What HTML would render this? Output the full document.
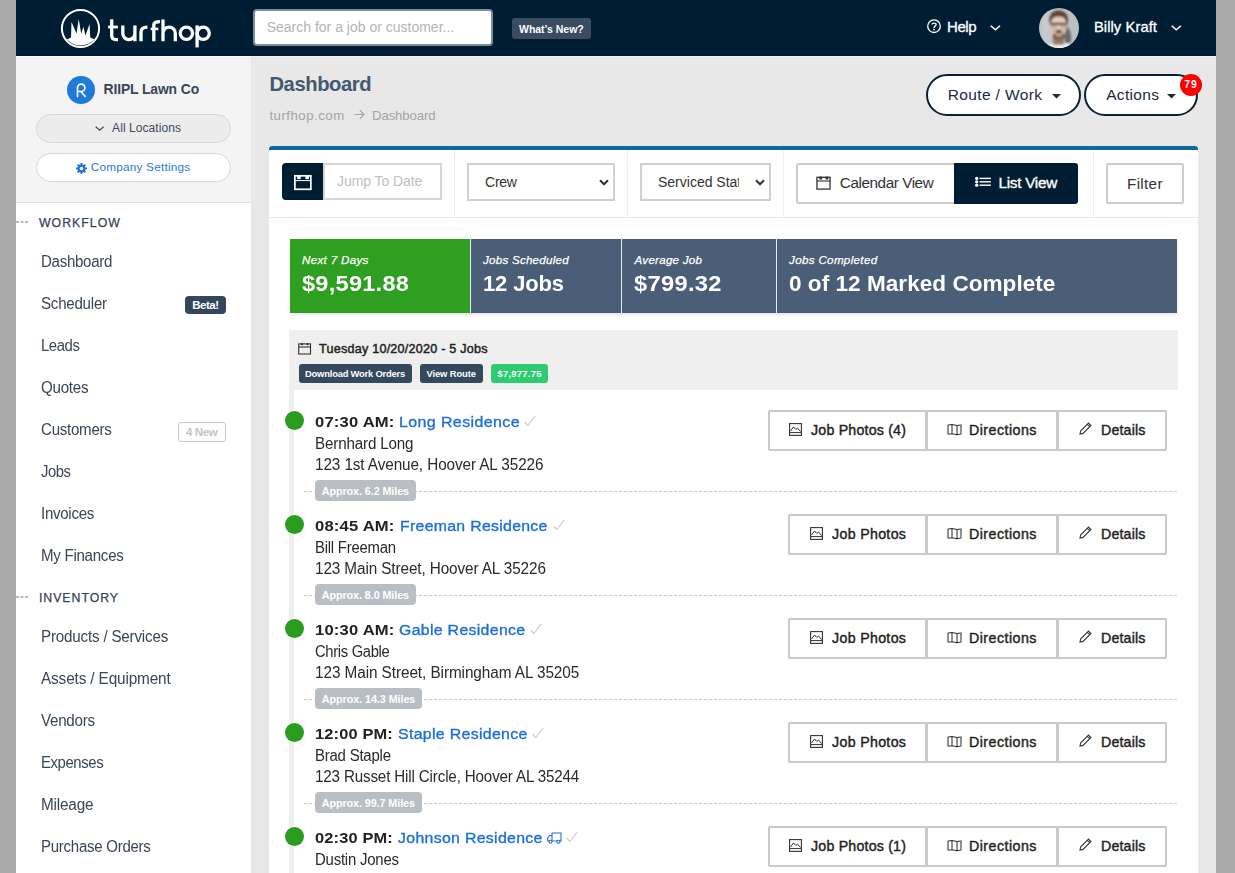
<!DOCTYPE html>
<html><head><meta charset="utf-8">
<style>
*{box-sizing:border-box;margin:0;padding:0}
html,body{width:1235px;height:873px;overflow:hidden;background:#ababab;font-family:"Liberation Sans",sans-serif;}
.abs{position:absolute}
.t{position:absolute;white-space:nowrap}
svg{position:absolute;overflow:visible}
</style></head>
<body>
<div class="abs" style="left:16px;top:0px;width:1200px;height:56px;background:#001e33"></div>
<div class="abs" style="left:16px;top:56px;width:235px;height:1px;background:#fcfcfc"></div>
<div class="abs" style="left:251px;top:56px;width:965px;height:1px;background:#f1f0ef"></div>
<div class="abs" style="left:16px;top:57px;width:235px;height:816px;background:#fff"></div>
<div class="abs" style="left:16px;top:57px;width:235px;height:145px;background:#f4f4f4"></div>
<div class="abs" style="left:16px;top:202px;width:235px;height:1px;background:#dedede"></div>
<div class="abs" style="left:251px;top:57px;width:965px;height:816px;background:#e8e8e8"></div>
<svg style="left:60px;top:8px" width="42" height="42" viewBox="0 0 42 42">
<circle cx="20.5" cy="20.5" r="18.6" fill="none" stroke="#fff" stroke-width="2"/>
<path d="M6.9 31.6 L11 29.4 L11.5 13.9 L16.5 25.4 L18.7 11.1 L21.2 25.8 L23.4 18.8 L25.4 27.6 L29.6 15.9 L30.2 29.4 L34.4 31.3 A18.6 18.6 0 0 1 6.9 31.6 Z" fill="#fff"/>
</svg>
<svg style="left:100px;top:10px" width="120" height="45" viewBox="100 10 120 45">
<g fill="none" stroke="#fff" stroke-width="3.3">
<path d="M111.7 19.2 V35.3 Q111.7 39.6 116 39.6 H118"/>
<path d="M108.1 27 H117.9" stroke-width="2.8"/>
<path d="M122.8 25.5 V33.5 A6.05 6.05 0 0 0 134.9 33.5 M134.9 25.5 V41.3"/>
<path d="M141 41.3 V32 Q141 27.1 147.4 27.1"/>
<path d="M153.8 41.3 V25 Q153.8 21.6 159.9 21.6"/>
<path d="M150.7 28.9 H158.3" stroke-width="2.6"/>
<path d="M163 19.4 V41.3 M163 33.2 A6.15 6.15 0 0 1 175.3 33.2 V41.3"/>
<circle cx="186.4" cy="33.3" r="6.15"/>
<path d="M197.1 25.4 V47.4"/>
<circle cx="203.2" cy="33.3" r="6.1"/>
</g></svg>
<div class="abs" style="left:253px;top:9px;width:240px;height:37px;background:#fff;border:2px solid #7f8d98;border-radius:4px"></div>
<div class="t" style="left:266.70px;top:20.00px;font-size:14.00px;line-height:14.00px;font-weight:normal;font-style:normal;color:#b4b4b4;letter-spacing:0.000px;">Search for a job or customer...</div>
<div class="abs" style="left:512px;top:18px;width:79px;height:21px;background:#3b4b60;border-radius:3px"></div>
<div class="t" style="left:519.00px;top:24.00px;font-size:10.50px;line-height:10.50px;font-weight:bold;font-style:normal;color:#fff;letter-spacing:-0.025px;">What’s New?</div>
<svg style="left:926px;top:19px" width="16" height="16" viewBox="0 0 16 16">
<circle cx="8" cy="7.2" r="6.3" fill="none" stroke="#fff" stroke-width="1.3"/>
<path d="M5.9 5.6 C5.9 3.6 10.1 3.6 10.1 5.6 C10.1 7.2 8 7.1 8 8.9" fill="none" stroke="#fff" stroke-width="1.3"/>
<circle cx="8" cy="10.6" r="0.8" fill="#fff"/>
</svg>
<div class="t" style="left:947.00px;top:19.00px;font-size:15.00px;line-height:15.00px;font-weight:normal;font-style:normal;color:#fff;letter-spacing:-0.452px;-webkit-text-stroke:0.3px #fff;">Help</div>
<svg style="left:990.3px;top:25px" width="10.7" height="5.5" viewBox="0 0 10.7 5.5"><path d="M0.7 0.7 L5.35 4.8 L10.0 0.7" fill="none" stroke="#fff" stroke-width="1.5"/></svg>
<svg style="left:1039px;top:8px" width="40" height="40" viewBox="0 0 40 40">
<defs><clipPath id="av"><circle cx="20" cy="20" r="20"/></clipPath>
<filter id="bl" x="-20%" y="-20%" width="140%" height="140%"><feGaussianBlur stdDeviation="0.9"/></filter></defs>
<g clip-path="url(#av)">
<rect width="40" height="40" fill="#bcc0c5"/>
<g filter="url(#bl)">
<ellipse cx="8" cy="20" rx="6" ry="16" fill="#c6cace"/>
<path d="M26 17 Q33 20 32 34 L26 36 Z" fill="#666a70"/>
<ellipse cx="20" cy="41" rx="15" ry="6.5" fill="#f1f1ef"/>
<rect x="14" y="28" width="11" height="9" fill="#9c7d6c"/>
<ellipse cx="19.5" cy="18.5" rx="8.2" ry="11.5" fill="#d7b8a8"/>
<ellipse cx="19.5" cy="13" rx="7" ry="4" fill="#e4cbbd"/>
<path d="M10 15 Q9 3 19.5 2.5 Q30 3 29 15 L27 14 Q26 8 19.5 8.5 Q13 8 12 14 Z" fill="#5f4434"/>
<rect x="11" y="14.8" width="17.5" height="2" fill="#3e3536"/>
<rect x="12.5" y="16.4" width="6" height="2.6" fill="#a98c86" opacity="0.6"/>
<rect x="21" y="16.4" width="6" height="2.6" fill="#a98c86" opacity="0.6"/>
<ellipse cx="19.5" cy="19.5" rx="1.3" ry="2.5" fill="#ead3c6"/>
<ellipse cx="20" cy="28.3" rx="6.5" ry="3.8" fill="#7c604f"/>
<ellipse cx="20" cy="26.5" rx="3.5" ry="2" fill="#c9a595"/>
<ellipse cx="19.8" cy="23.2" rx="2.8" ry="1.3" fill="#1e0e12"/>
<ellipse cx="19.8" cy="24.6" rx="2.2" ry="0.7" fill="#7a3a44"/>
</g></g></svg>
<div class="t" style="left:1093.90px;top:20.00px;font-size:14.80px;line-height:14.80px;font-weight:normal;font-style:normal;color:#fff;letter-spacing:0.060px;-webkit-text-stroke:0.3px #fff;">Billy Kraft</div>
<svg style="left:1171px;top:25px" width="10.6" height="5.4" viewBox="0 0 10.6 5.4"><path d="M0.7 0.7 L5.3 4.7 L9.9 0.7" fill="none" stroke="#fff" stroke-width="1.5"/></svg>
<div class="abs" style="left:67px;top:76px;width:28px;height:28px;background:#1f7bd9;border-radius:50%"></div>
<svg style="left:67px;top:76px" width="28" height="28" viewBox="67 76 28 28"><path d="M77.5 96.6 V87.8 A3.7 3.7 0 1 1 81.2 91.5 H77.5 M80.8 91.5 L85.2 96.4" fill="none" stroke="#fff" stroke-width="1.6" stroke-linecap="round" stroke-linejoin="round"/></svg>
<div class="t" style="left:103.50px;top:83.00px;font-size:13.90px;line-height:13.90px;font-weight:bold;font-style:normal;color:#3a4658;letter-spacing:-0.112px;">RIIPL Lawn Co</div>
<div class="abs" style="left:36px;top:114px;width:195px;height:29px;background:#ececec;border:1px solid #d7d7d7;border-radius:15px"></div>
<svg style="left:95.2px;top:125.5px" width="9.3" height="5" viewBox="0 0 9.3 5"><path d="M0.7 0.7 L4.65 4.3 L8.600000000000001 0.7" fill="none" stroke="#3d4a5c" stroke-width="1.2"/></svg>
<div class="t" style="left:112.10px;top:122.00px;font-size:12.00px;line-height:12.00px;font-weight:normal;font-style:normal;color:#3d4a5c;letter-spacing:0.072px;">All Locations</div>
<div class="abs" style="left:36px;top:153px;width:195px;height:29px;background:#fff;border:1px solid #d7d7d7;border-radius:15px"></div>
<svg style="left:75.9px;top:162.9px" width="11" height="11" viewBox="0 0 11 11">
<g fill="#1f74d8"><circle cx="5.5" cy="5.5" r="4"/>
<rect x="4.5" y="0" width="2" height="11" rx="0.4"/><rect x="0" y="4.5" width="11" height="2" rx="0.4"/>
<rect x="4.5" y="0" width="2" height="11" rx="0.4" transform="rotate(45 5.5 5.5)"/><rect x="4.5" y="0" width="2" height="11" rx="0.4" transform="rotate(-45 5.5 5.5)"/></g>
<circle cx="5.5" cy="5.5" r="1.8" fill="#fff"/></svg>
<div class="t" style="left:90.70px;top:162.00px;font-size:11.80px;line-height:11.80px;font-weight:normal;font-style:normal;color:#2a7ad5;letter-spacing:0.205px;">Company Settings</div>
<svg style="left:16px;top:220.5px" width="13" height="2"><line x1="0" y1="1" x2="12" y2="1" stroke="#6f7c8e" stroke-width="1" stroke-dasharray="3 1.5"/></svg>
<div class="t" style="left:38.90px;top:217.00px;font-size:12.30px;line-height:12.30px;font-weight:normal;font-style:normal;color:#34435a;letter-spacing:1.043px;-webkit-text-stroke:0.25px #34435a;">WORKFLOW</div>
<div class="t" style="left:41.00px;top:254.00px;font-size:15.80px;line-height:15.80px;font-weight:normal;font-style:normal;color:#3a4656;letter-spacing:-0.309px;transform:scaleX(0.9543);transform-origin:0 0;">Dashboard</div>
<div class="t" style="left:41.00px;top:296.00px;font-size:15.80px;line-height:15.80px;font-weight:normal;font-style:normal;color:#3a4656;letter-spacing:-0.264px;transform:scaleX(0.9574);transform-origin:0 0;">Scheduler</div>
<div class="t" style="left:41.00px;top:338.00px;font-size:15.80px;line-height:15.80px;font-weight:normal;font-style:normal;color:#3a4656;letter-spacing:-0.441px;transform:scaleX(0.9421);transform-origin:0 0;">Leads</div>
<div class="t" style="left:41.00px;top:380.00px;font-size:15.80px;line-height:15.80px;font-weight:normal;font-style:normal;color:#3a4656;letter-spacing:-0.287px;transform:scaleX(0.9595);transform-origin:0 0;">Quotes</div>
<div class="t" style="left:41.00px;top:422.00px;font-size:15.80px;line-height:15.80px;font-weight:normal;font-style:normal;color:#3a4656;letter-spacing:-0.287px;transform:scaleX(0.9569);transform-origin:0 0;">Customers</div>
<div class="t" style="left:41.00px;top:464.00px;font-size:15.80px;line-height:15.80px;font-weight:normal;font-style:normal;color:#3a4656;letter-spacing:-0.493px;transform:scaleX(0.9376);transform-origin:0 0;">Jobs</div>
<div class="t" style="left:41.00px;top:506.00px;font-size:15.80px;line-height:15.80px;font-weight:normal;font-style:normal;color:#3a4656;letter-spacing:-0.279px;transform:scaleX(0.9518);transform-origin:0 0;">Invoices</div>
<div class="t" style="left:41.00px;top:548.00px;font-size:15.80px;line-height:15.80px;font-weight:normal;font-style:normal;color:#3a4656;letter-spacing:-0.283px;transform:scaleX(0.9547);transform-origin:0 0;">My Finances</div>
<div class="t" style="left:41.00px;top:629.00px;font-size:15.80px;line-height:15.80px;font-weight:normal;font-style:normal;color:#3a4656;letter-spacing:-0.203px;transform:scaleX(0.9612);transform-origin:0 0;">Products / Services</div>
<div class="t" style="left:41.00px;top:671.00px;font-size:15.80px;line-height:15.80px;font-weight:normal;font-style:normal;color:#3a4656;letter-spacing:-0.153px;transform:scaleX(0.9722);transform-origin:0 0;">Assets / Equipment</div>
<div class="t" style="left:41.00px;top:713.00px;font-size:15.80px;line-height:15.80px;font-weight:normal;font-style:normal;color:#3a4656;letter-spacing:-0.269px;transform:scaleX(0.9599);transform-origin:0 0;">Vendors</div>
<div class="t" style="left:41.00px;top:755.00px;font-size:15.80px;line-height:15.80px;font-weight:normal;font-style:normal;color:#3a4656;letter-spacing:-0.412px;transform:scaleX(0.9413);transform-origin:0 0;">Expenses</div>
<div class="t" style="left:41.00px;top:797.00px;font-size:15.80px;line-height:15.80px;font-weight:normal;font-style:normal;color:#3a4656;letter-spacing:-0.195px;transform:scaleX(0.9693);transform-origin:0 0;">Mileage</div>
<div class="t" style="left:41.00px;top:839.00px;font-size:15.80px;line-height:15.80px;font-weight:normal;font-style:normal;color:#3a4656;letter-spacing:-0.286px;transform:scaleX(0.9521);transform-origin:0 0;">Purchase Orders</div>
<svg style="left:16px;top:595.5px" width="13" height="2"><line x1="0" y1="1" x2="12" y2="1" stroke="#6f7c8e" stroke-width="1" stroke-dasharray="3 1.5"/></svg>
<div class="t" style="left:38.90px;top:592.00px;font-size:12.30px;line-height:12.30px;font-weight:normal;font-style:normal;color:#34435a;letter-spacing:0.986px;-webkit-text-stroke:0.25px #34435a;">INVENTORY</div>
<div class="abs" style="left:185px;top:296px;width:41px;height:18px;background:#34465c;border-radius:4px"></div>
<div class="t" style="left:192.30px;top:300.00px;font-size:11.50px;line-height:11.50px;font-weight:bold;font-style:normal;color:#fff;letter-spacing:-0.490px;">Beta!</div>
<div class="abs" style="left:178px;top:422px;width:48px;height:20px;background:#fff;border:1px solid #c9c9c9;border-radius:3px"></div>
<div class="t" style="left:186.10px;top:427.00px;font-size:11.50px;line-height:11.50px;font-weight:bold;font-style:normal;color:#c4c4c4;letter-spacing:-0.440px;">4 New</div>
<div class="t" style="left:269.40px;top:74.00px;font-size:20.20px;line-height:20.20px;font-weight:bold;font-style:normal;color:#44586f;letter-spacing:-0.401px;">Dashboard</div>
<div class="t" style="left:269.40px;top:109.00px;font-size:13.20px;line-height:13.20px;font-weight:normal;font-style:normal;color:#a0a4a8;letter-spacing:0.510px;">turfhop.com</div>
<svg style="left:353.5px;top:109px" width="11" height="11" viewBox="0 0 11 11"><path d="M0.5 5.5 H10 M5.8 1.2 L10 5.5 L5.8 9.8" fill="none" stroke="#a0a4a8" stroke-width="1.1"/></svg>
<div class="t" style="left:372.00px;top:109.00px;font-size:13.20px;line-height:13.20px;font-weight:normal;font-style:normal;color:#a0a4a8;letter-spacing:-0.109px;">Dashboard</div>
<div class="abs" style="left:926px;top:74px;width:155px;height:42px;background:#fff;border:2px solid #0b2038;border-radius:21px"></div>
<div class="t" style="left:947.70px;top:87.00px;font-size:15.50px;line-height:15.50px;font-weight:normal;font-style:normal;color:#1a2a40;letter-spacing:0.373px;">Route / Work</div>
<svg style="left:1051.5px;top:94px" width="9" height="4.5" viewBox="0 0 9 4.5"><path d="M0 0 H9 L4.5 4.5 Z" fill="#1a2a40"/></svg>
<div class="abs" style="left:1084px;top:74px;width:114px;height:42px;background:#fff;border:2px solid #0b2038;border-radius:21px"></div>
<div class="t" style="left:1106.20px;top:87.00px;font-size:15.50px;line-height:15.50px;font-weight:normal;font-style:normal;color:#1a2a40;letter-spacing:0.329px;">Actions</div>
<svg style="left:1167px;top:94px" width="9" height="4.5" viewBox="0 0 9 4.5"><path d="M0 0 H9 L4.5 4.5 Z" fill="#1a2a40"/></svg>
<div class="abs" style="left:1180px;top:74px;width:22px;height:22px;background:#f00;border-radius:50%"></div>
<div class="t" style="left:1184.20px;top:79.00px;font-size:10.50px;line-height:10.50px;font-weight:bold;font-style:normal;color:#fff;letter-spacing:0.924px;">79</div>
<div class="abs" style="left:269px;top:146px;width:929px;height:727px;background:#fff"></div>
<div class="abs" style="left:269px;top:146px;width:929px;height:4px;background:#0e6a99;border-radius:3px 3px 0 0"></div>
<div class="abs" style="left:269px;top:217px;width:929px;height:1px;background:#e9e9e9"></div>
<div class="abs" style="left:454px;top:150px;width:1px;height:67px;background:#efefef"></div>
<div class="abs" style="left:627px;top:150px;width:1px;height:67px;background:#efefef"></div>
<div class="abs" style="left:783px;top:150px;width:1px;height:67px;background:#efefef"></div>
<div class="abs" style="left:1093px;top:150px;width:1px;height:67px;background:#efefef"></div>
<div class="abs" style="left:282px;top:163px;width:41px;height:37px;background:#001e33;border-radius:4px 0 0 4px"></div>
<svg style="left:294px;top:175px" width="18" height="16" viewBox="0 0 18 16">
<rect x="0.85" y="0.8" width="16" height="13.5" fill="none" stroke="#fff" stroke-width="1.7"/>
<line x1="0.8" y1="5.6" x2="16.9" y2="5.6" stroke="#fff" stroke-width="1"/>
<rect x="3.1" y="0" width="3.6" height="4.1" fill="#fff"/><rect x="11.4" y="0" width="3.6" height="4.1" fill="#fff"/>
</svg>
<div class="abs" style="left:323px;top:163px;width:119px;height:37px;border:2px solid #d6d6d6"></div>
<div class="t" style="left:337.00px;top:174.00px;font-size:14.00px;line-height:14.00px;font-weight:normal;font-style:normal;color:#c0c0c0;letter-spacing:-0.065px;">Jump To Date</div>
<div class="abs" style="left:467px;top:163px;width:148px;height:38px;border:2px solid #d0d0d0;background:#fff"></div>
<div class="t" style="left:485.00px;top:175.00px;font-size:14.00px;line-height:14.00px;font-weight:normal;font-style:normal;color:#333;letter-spacing:-0.235px;">Crew</div>
<svg style="left:599.3px;top:179px" width="10" height="7" viewBox="0 0 10 7"><path d="M1 1.2 L5 5.3 L9 1.2" fill="none" stroke="#333" stroke-width="2"/></svg>
<div class="abs" style="left:640px;top:163px;width:131px;height:38px;border:2px solid #d0d0d0;background:#fff"></div>
<div class="t" style="left:658.00px;top:175.00px;font-size:14.00px;line-height:14.00px;font-weight:normal;font-style:normal;color:#333;letter-spacing:0.000px;">Serviced Stat</div>
<div class="abs" style="left:739.3px;top:168px;width:14.0px;height:28px;background:#fff"></div>
<svg style="left:755.3px;top:179px" width="10" height="7" viewBox="0 0 10 7"><path d="M1 1.2 L5 5.3 L9 1.2" fill="none" stroke="#333" stroke-width="2"/></svg>
<div class="abs" style="left:796px;top:163px;width:159px;height:41px;border:2px solid #cdcdcd;border-right:none;border-radius:3px 0 0 3px;background:#fff"></div>
<svg style="left:816px;top:175.5px" width="15" height="14" viewBox="0 0 15 14">
<rect x="0.95" y="1.3" width="13.1" height="11.8" fill="none" stroke="#333" stroke-width="1.3"/>
<line x1="0.9" y1="5" x2="14" y2="5" stroke="#333" stroke-width="1.1"/>
<rect x="3.3" y="0.4" width="2.8" height="3.2" rx="0.9" fill="#333"/><rect x="9.5" y="0.4" width="2.8" height="3.2" rx="0.9" fill="#333"/>
</svg>
<div class="t" style="left:839.80px;top:175.00px;font-size:15.30px;line-height:15.30px;font-weight:normal;font-style:normal;color:#333;letter-spacing:-0.439px;">Calendar View</div>
<div class="abs" style="left:954px;top:163px;width:124px;height:41px;background:#001e33;border-radius:0 3px 3px 0"></div>
<svg style="left:974px;top:176px" width="18" height="12" viewBox="0 0 18 12">
<g fill="#fff"><circle cx="2.7" cy="2.4" r="1.65"/><circle cx="2.7" cy="5.8" r="1.65"/><circle cx="2.7" cy="9.2" r="1.65"/>
<rect x="5.5" y="1.7" width="11.4" height="1.4"/><rect x="5.5" y="5.1" width="11.4" height="1.4"/><rect x="5.5" y="8.5" width="11.4" height="1.4"/></g></svg>
<div class="t" style="left:998.50px;top:175.00px;font-size:15.30px;line-height:15.30px;font-weight:normal;font-style:normal;color:#fff;letter-spacing:-0.273px;-webkit-text-stroke:0.35px #fff;">List View</div>
<div class="abs" style="left:1106px;top:163px;width:78px;height:41px;border:2px solid #cdcdcd;border-radius:2px;background:#fff"></div>
<div class="t" style="left:1127.00px;top:176.00px;font-size:15.30px;line-height:15.30px;font-weight:normal;font-style:normal;color:#333;letter-spacing:0.301px;">Filter</div>
<div class="abs" style="left:290px;top:239px;width:887px;height:74px;background:#4a5f77;box-shadow:0 2px 3px rgba(0,0,0,0.10)"></div>
<div class="abs" style="left:290px;top:239px;width:180px;height:74px;background:#2e9f20"></div>
<div class="abs" style="left:470px;top:239px;width:1px;height:74px;background:#e8ecf0"></div>
<div class="abs" style="left:621px;top:239px;width:1px;height:74px;background:#e8ecf0"></div>
<div class="abs" style="left:776px;top:239px;width:1px;height:74px;background:#e8ecf0"></div>
<div class="t" style="left:302.00px;top:254.00px;font-size:11.60px;line-height:11.60px;font-weight:normal;font-style:italic;color:#fff;letter-spacing:0.323px;-webkit-text-stroke:0.25px #fff;">Next 7 Days</div>
<div class="t" style="left:302.00px;top:273.00px;font-size:22.40px;line-height:22.40px;font-weight:bold;font-style:normal;color:#fff;letter-spacing:0.258px;transform:scaleX(1.0509);transform-origin:0 0;">$9,591.88</div>
<div class="t" style="left:483.03px;top:254.00px;font-size:11.60px;line-height:11.60px;font-weight:normal;font-style:italic;color:#fff;letter-spacing:0.239px;-webkit-text-stroke:0.25px #fff;">Jobs Scheduled</div>
<div class="t" style="left:483.00px;top:273.00px;font-size:22.40px;line-height:22.40px;font-weight:bold;font-style:normal;color:#fff;letter-spacing:-0.123px;transform:scaleX(0.9797);transform-origin:0 0;">12 Jobs</div>
<div class="t" style="left:634.58px;top:254.00px;font-size:11.60px;line-height:11.60px;font-weight:normal;font-style:italic;color:#fff;letter-spacing:0.249px;-webkit-text-stroke:0.25px #fff;">Average Job</div>
<div class="t" style="left:634.00px;top:273.00px;font-size:22.40px;line-height:22.40px;font-weight:bold;font-style:normal;color:#fff;letter-spacing:0.309px;transform:scaleX(1.0564);transform-origin:0 0;">$799.32</div>
<div class="t" style="left:789.03px;top:254.00px;font-size:11.60px;line-height:11.60px;font-weight:normal;font-style:italic;color:#fff;letter-spacing:0.333px;-webkit-text-stroke:0.25px #fff;">Jobs Completed</div>
<div class="t" style="left:789.00px;top:273.00px;font-size:22.40px;line-height:22.40px;font-weight:bold;font-style:normal;color:#fff;letter-spacing:0.035px;transform:scaleX(1.0069);transform-origin:0 0;">0 of 12 Marked Complete</div>
<div class="abs" style="left:289px;top:330px;width:889px;height:60px;background:#efefef"></div>
<div class="abs" style="left:289px;top:390px;width:5px;height:483px;background:#efefef"></div>
<svg style="left:298px;top:342.5px" width="14" height="12" viewBox="0 0 14 12">
<rect x="0.7" y="0.9" width="11.8" height="10.1" fill="none" stroke="#333" stroke-width="1.1"/>
<line x1="0.7" y1="4" x2="12.5" y2="4" stroke="#333" stroke-width="1.1"/>
<circle cx="4" cy="1.1" r="1.2" fill="#333"/><circle cx="9.5" cy="1.1" r="1.2" fill="#333"/>
</svg>
<div class="t" style="left:319.00px;top:343.00px;font-size:12.60px;line-height:12.60px;font-weight:normal;font-style:normal;color:#222;letter-spacing:0.229px;-webkit-text-stroke:0.45px #222;">Tuesday 10/20/2020 - 5 Jobs</div>
<div class="abs" style="left:299px;top:364px;width:113px;height:19px;background:#34495e;border-radius:3px"></div>
<div class="t" style="left:305.00px;top:369.00px;font-size:9.40px;line-height:9.40px;font-weight:bold;font-style:normal;color:#fff;letter-spacing:-0.199px;">Download Work Orders</div>
<div class="abs" style="left:420px;top:364px;width:63px;height:19px;background:#34495e;border-radius:3px"></div>
<div class="t" style="left:426.50px;top:369.00px;font-size:9.40px;line-height:9.40px;font-weight:bold;font-style:normal;color:#fff;letter-spacing:-0.111px;">View Route</div>
<div class="abs" style="left:491px;top:364px;width:57px;height:19px;background:#2ecc71;border-radius:3px"></div>
<div class="t" style="left:497.50px;top:369.00px;font-size:9.40px;line-height:9.40px;font-weight:bold;font-style:normal;color:#fff;letter-spacing:0.272px;">$7,977.75</div>
<div class="abs" style="left:284.5px;top:410.5px;width:19.0px;height:19.0px;background:#2a9d1f;border-radius:50%"></div>
<div class="t" style="left:315.00px;top:414.00px;font-size:15.30px;line-height:15.30px;font-weight:bold;font-style:normal;color:#222;letter-spacing:0.177px;transform:scaleX(1.0858);transform-origin:0 0;">07:30 AM:</div>
<div class="t" style="left:399.10px;top:414.00px;font-size:15.30px;line-height:15.30px;font-weight:normal;font-style:normal;color:#1c6fd6;letter-spacing:0.368px;transform:scaleX(1.0453);transform-origin:0 0;-webkit-text-stroke:0.35px #1c6fd6;">Long Residence</div>
<svg style="left:524.3px;top:415px" width="12" height="12" viewBox="0 0 12 12"><path d="M0.8 7 L3.8 10.5 L11.3 0.8" fill="none" stroke="#cfcfcf" stroke-width="1.2"/></svg>
<div class="t" style="left:315.00px;top:436.00px;font-size:15.60px;line-height:15.60px;font-weight:normal;font-style:normal;color:#2a2a2a;letter-spacing:-0.158px;transform:scaleX(0.9732);transform-origin:0 0;">Bernhard Long</div>
<div class="t" style="left:315.00px;top:457.00px;font-size:15.60px;line-height:15.60px;font-weight:normal;font-style:normal;color:#2a2a2a;letter-spacing:-0.099px;transform:scaleX(0.9814);transform-origin:0 0;">123 1st Avenue, Hoover AL 35226</div>
<svg style="left:304px;top:490.5px" width="874" height="2"><line x1="0" y1="0.5" x2="874" y2="0.5" stroke="#cccccc" stroke-width="1" stroke-dasharray="3 2"/></svg>
<div class="abs" style="left:315px;top:480px;width:101px;height:20.5px;background:#b9bec4;border-radius:4px"></div>
<div class="t" style="left:321.80px;top:486.00px;font-size:10.80px;line-height:10.80px;font-weight:bold;font-style:normal;color:#fff;letter-spacing:-0.096px;">Approx. 6.2 Miles</div>
<div class="abs" style="left:768px;top:410px;width:159px;height:41px;border:2px solid #c9c9c9;background:#fff;border-radius:2px 0 0 2px"></div>
<div class="abs" style="left:926px;top:410px;width:132px;height:41px;border:2px solid #c9c9c9;background:#fff"></div>
<div class="abs" style="left:1057px;top:410px;width:110px;height:41px;border:2px solid #c9c9c9;background:#fff;border-radius:0 2px 2px 0"></div>
<svg style="left:789px;top:422.5px" width="13" height="13" viewBox="0 0 13 13">
<rect x="0.6" y="0.6" width="11.8" height="11.8" fill="none" stroke="#333" stroke-width="1.1"/>
<path d="M1.5 8 L4.5 4 L6.8 6.5 L8.5 5 L11.5 8.5" fill="none" stroke="#333" stroke-width="1"/>
<line x1="0.6" y1="9.6" x2="12.4" y2="9.6" stroke="#333" stroke-width="1"/></svg>
<div class="t" style="left:811.00px;top:423.00px;font-size:14.20px;line-height:14.20px;font-weight:normal;font-style:normal;color:#222;letter-spacing:0.204px;-webkit-text-stroke:0.4px #222;">Job Photos (4)</div>
<svg style="left:946.5px;top:423.5px" width="15" height="12" viewBox="0 0 15 12">
<path d="M1 0.9 L5 0.6 L10 1.4 L14 0.9 V10.1 L10 10.7 L5 9.8 L1 10.1 Z M5 0.6 V9.8 M10 1.4 V10.7" fill="none" stroke="#333" stroke-width="1.05" stroke-linejoin="round"/></svg>
<div class="t" style="left:969.00px;top:423.00px;font-size:14.20px;line-height:14.20px;font-weight:normal;font-style:normal;color:#222;letter-spacing:0.485px;-webkit-text-stroke:0.4px #222;">Directions</div>
<svg style="left:1078.5px;top:422px" width="13" height="13" viewBox="0 0 13 13">
<path d="M1 12 L1.6 9 L9.5 1.1 L11.9 3.5 L4 11.4 Z M8.3 2.3 L10.7 4.7" fill="none" stroke="#333" stroke-width="1.1"/></svg>
<div class="t" style="left:1101.00px;top:423.00px;font-size:14.20px;line-height:14.20px;font-weight:normal;font-style:normal;color:#222;letter-spacing:0.182px;-webkit-text-stroke:0.4px #222;">Details</div>
<div class="abs" style="left:284.5px;top:514.5px;width:19.0px;height:19.0px;background:#2a9d1f;border-radius:50%"></div>
<div class="t" style="left:315.00px;top:518.00px;font-size:15.30px;line-height:15.30px;font-weight:bold;font-style:normal;color:#222;letter-spacing:0.177px;transform:scaleX(1.0858);transform-origin:0 0;">08:45 AM:</div>
<div class="t" style="left:399.60px;top:518.00px;font-size:15.30px;line-height:15.30px;font-weight:normal;font-style:normal;color:#1c6fd6;letter-spacing:0.291px;transform:scaleX(1.0350);transform-origin:0 0;-webkit-text-stroke:0.35px #1c6fd6;">Freeman Residence</div>
<svg style="left:552.6px;top:519px" width="12" height="12" viewBox="0 0 12 12"><path d="M0.8 7 L3.8 10.5 L11.3 0.8" fill="none" stroke="#cfcfcf" stroke-width="1.2"/></svg>
<div class="t" style="left:315.00px;top:540.00px;font-size:15.60px;line-height:15.60px;font-weight:normal;font-style:normal;color:#2a2a2a;letter-spacing:-0.250px;transform:scaleX(0.9550);transform-origin:0 0;">Bill Freeman</div>
<div class="t" style="left:315.00px;top:561.00px;font-size:15.60px;line-height:15.60px;font-weight:normal;font-style:normal;color:#2a2a2a;letter-spacing:-0.102px;transform:scaleX(0.9805);transform-origin:0 0;">123 Main Street, Hoover AL 35226</div>
<svg style="left:304px;top:594.5px" width="874" height="2"><line x1="0" y1="0.5" x2="874" y2="0.5" stroke="#cccccc" stroke-width="1" stroke-dasharray="3 2"/></svg>
<div class="abs" style="left:315px;top:584px;width:101px;height:20.5px;background:#b9bec4;border-radius:4px"></div>
<div class="t" style="left:321.80px;top:590.00px;font-size:10.80px;line-height:10.80px;font-weight:bold;font-style:normal;color:#fff;letter-spacing:-0.096px;">Approx. 8.0 Miles</div>
<div class="abs" style="left:788px;top:514px;width:139px;height:41px;border:2px solid #c9c9c9;background:#fff;border-radius:2px 0 0 2px"></div>
<div class="abs" style="left:926px;top:514px;width:132px;height:41px;border:2px solid #c9c9c9;background:#fff"></div>
<div class="abs" style="left:1057px;top:514px;width:110px;height:41px;border:2px solid #c9c9c9;background:#fff;border-radius:0 2px 2px 0"></div>
<svg style="left:810px;top:526.5px" width="13" height="13" viewBox="0 0 13 13">
<rect x="0.6" y="0.6" width="11.8" height="11.8" fill="none" stroke="#333" stroke-width="1.1"/>
<path d="M1.5 8 L4.5 4 L6.8 6.5 L8.5 5 L11.5 8.5" fill="none" stroke="#333" stroke-width="1"/>
<line x1="0.6" y1="9.6" x2="12.4" y2="9.6" stroke="#333" stroke-width="1"/></svg>
<div class="t" style="left:832.00px;top:527.00px;font-size:14.20px;line-height:14.20px;font-weight:normal;font-style:normal;color:#222;letter-spacing:0.329px;-webkit-text-stroke:0.4px #222;">Job Photos</div>
<svg style="left:946.5px;top:527.5px" width="15" height="12" viewBox="0 0 15 12">
<path d="M1 0.9 L5 0.6 L10 1.4 L14 0.9 V10.1 L10 10.7 L5 9.8 L1 10.1 Z M5 0.6 V9.8 M10 1.4 V10.7" fill="none" stroke="#333" stroke-width="1.05" stroke-linejoin="round"/></svg>
<div class="t" style="left:969.00px;top:527.00px;font-size:14.20px;line-height:14.20px;font-weight:normal;font-style:normal;color:#222;letter-spacing:0.485px;-webkit-text-stroke:0.4px #222;">Directions</div>
<svg style="left:1078.5px;top:526px" width="13" height="13" viewBox="0 0 13 13">
<path d="M1 12 L1.6 9 L9.5 1.1 L11.9 3.5 L4 11.4 Z M8.3 2.3 L10.7 4.7" fill="none" stroke="#333" stroke-width="1.1"/></svg>
<div class="t" style="left:1101.00px;top:527.00px;font-size:14.20px;line-height:14.20px;font-weight:normal;font-style:normal;color:#222;letter-spacing:0.182px;-webkit-text-stroke:0.4px #222;">Details</div>
<div class="abs" style="left:284.5px;top:618.5px;width:19.0px;height:19.0px;background:#2a9d1f;border-radius:50%"></div>
<div class="t" style="left:315.00px;top:622.00px;font-size:15.30px;line-height:15.30px;font-weight:bold;font-style:normal;color:#222;letter-spacing:0.177px;transform:scaleX(1.0858);transform-origin:0 0;">10:30 AM:</div>
<div class="t" style="left:398.90px;top:622.00px;font-size:15.30px;line-height:15.30px;font-weight:normal;font-style:normal;color:#1c6fd6;letter-spacing:0.301px;transform:scaleX(1.0372);transform-origin:0 0;-webkit-text-stroke:0.35px #1c6fd6;">Gable Residence</div>
<svg style="left:530.4px;top:623px" width="12" height="12" viewBox="0 0 12 12"><path d="M0.8 7 L3.8 10.5 L11.3 0.8" fill="none" stroke="#cfcfcf" stroke-width="1.2"/></svg>
<div class="t" style="left:315.00px;top:644.00px;font-size:15.60px;line-height:15.60px;font-weight:normal;font-style:normal;color:#2a2a2a;letter-spacing:-0.320px;transform:scaleX(0.9449);transform-origin:0 0;">Chris Gable</div>
<div class="t" style="left:315.00px;top:665.00px;font-size:15.60px;line-height:15.60px;font-weight:normal;font-style:normal;color:#2a2a2a;letter-spacing:-0.085px;transform:scaleX(0.9838);transform-origin:0 0;">123 Main Street, Birmingham AL 35205</div>
<svg style="left:304px;top:698.5px" width="874" height="2"><line x1="0" y1="0.5" x2="874" y2="0.5" stroke="#cccccc" stroke-width="1" stroke-dasharray="3 2"/></svg>
<div class="abs" style="left:315px;top:688px;width:106.80000000000001px;height:20.5px;background:#b9bec4;border-radius:4px"></div>
<div class="t" style="left:321.80px;top:694.00px;font-size:10.80px;line-height:10.80px;font-weight:bold;font-style:normal;color:#fff;letter-spacing:-0.073px;">Approx. 14.3 Miles</div>
<div class="abs" style="left:788px;top:618px;width:139px;height:41px;border:2px solid #c9c9c9;background:#fff;border-radius:2px 0 0 2px"></div>
<div class="abs" style="left:926px;top:618px;width:132px;height:41px;border:2px solid #c9c9c9;background:#fff"></div>
<div class="abs" style="left:1057px;top:618px;width:110px;height:41px;border:2px solid #c9c9c9;background:#fff;border-radius:0 2px 2px 0"></div>
<svg style="left:810px;top:630.5px" width="13" height="13" viewBox="0 0 13 13">
<rect x="0.6" y="0.6" width="11.8" height="11.8" fill="none" stroke="#333" stroke-width="1.1"/>
<path d="M1.5 8 L4.5 4 L6.8 6.5 L8.5 5 L11.5 8.5" fill="none" stroke="#333" stroke-width="1"/>
<line x1="0.6" y1="9.6" x2="12.4" y2="9.6" stroke="#333" stroke-width="1"/></svg>
<div class="t" style="left:832.00px;top:631.00px;font-size:14.20px;line-height:14.20px;font-weight:normal;font-style:normal;color:#222;letter-spacing:0.329px;-webkit-text-stroke:0.4px #222;">Job Photos</div>
<svg style="left:946.5px;top:631.5px" width="15" height="12" viewBox="0 0 15 12">
<path d="M1 0.9 L5 0.6 L10 1.4 L14 0.9 V10.1 L10 10.7 L5 9.8 L1 10.1 Z M5 0.6 V9.8 M10 1.4 V10.7" fill="none" stroke="#333" stroke-width="1.05" stroke-linejoin="round"/></svg>
<div class="t" style="left:969.00px;top:631.00px;font-size:14.20px;line-height:14.20px;font-weight:normal;font-style:normal;color:#222;letter-spacing:0.485px;-webkit-text-stroke:0.4px #222;">Directions</div>
<svg style="left:1078.5px;top:630px" width="13" height="13" viewBox="0 0 13 13">
<path d="M1 12 L1.6 9 L9.5 1.1 L11.9 3.5 L4 11.4 Z M8.3 2.3 L10.7 4.7" fill="none" stroke="#333" stroke-width="1.1"/></svg>
<div class="t" style="left:1101.00px;top:631.00px;font-size:14.20px;line-height:14.20px;font-weight:normal;font-style:normal;color:#222;letter-spacing:0.182px;-webkit-text-stroke:0.4px #222;">Details</div>
<div class="abs" style="left:284.5px;top:722.5px;width:19.0px;height:19.0px;background:#2a9d1f;border-radius:50%"></div>
<div class="t" style="left:315.00px;top:726.00px;font-size:15.30px;line-height:15.30px;font-weight:bold;font-style:normal;color:#222;letter-spacing:0.149px;transform:scaleX(1.0713);transform-origin:0 0;">12:00 PM:</div>
<div class="t" style="left:397.80px;top:726.00px;font-size:15.30px;line-height:15.30px;font-weight:normal;font-style:normal;color:#1c6fd6;letter-spacing:0.304px;transform:scaleX(1.0395);transform-origin:0 0;-webkit-text-stroke:0.35px #1c6fd6;">Staple Residence</div>
<svg style="left:532.2px;top:727px" width="12" height="12" viewBox="0 0 12 12"><path d="M0.8 7 L3.8 10.5 L11.3 0.8" fill="none" stroke="#cfcfcf" stroke-width="1.2"/></svg>
<div class="t" style="left:315.00px;top:748.00px;font-size:15.60px;line-height:15.60px;font-weight:normal;font-style:normal;color:#2a2a2a;letter-spacing:-0.230px;transform:scaleX(0.9593);transform-origin:0 0;">Brad Staple</div>
<div class="t" style="left:315.00px;top:769.00px;font-size:15.60px;line-height:15.60px;font-weight:normal;font-style:normal;color:#2a2a2a;letter-spacing:-0.145px;transform:scaleX(0.9711);transform-origin:0 0;">123 Russet Hill Circle, Hoover AL 35244</div>
<svg style="left:304px;top:802.5px" width="874" height="2"><line x1="0" y1="0.5" x2="874" y2="0.5" stroke="#cccccc" stroke-width="1" stroke-dasharray="3 2"/></svg>
<div class="abs" style="left:315px;top:792px;width:106.80000000000001px;height:20.5px;background:#b9bec4;border-radius:4px"></div>
<div class="t" style="left:321.80px;top:798.00px;font-size:10.80px;line-height:10.80px;font-weight:bold;font-style:normal;color:#fff;letter-spacing:-0.096px;">Approx. 99.7 Miles</div>
<div class="abs" style="left:788px;top:722px;width:139px;height:41px;border:2px solid #c9c9c9;background:#fff;border-radius:2px 0 0 2px"></div>
<div class="abs" style="left:926px;top:722px;width:132px;height:41px;border:2px solid #c9c9c9;background:#fff"></div>
<div class="abs" style="left:1057px;top:722px;width:110px;height:41px;border:2px solid #c9c9c9;background:#fff;border-radius:0 2px 2px 0"></div>
<svg style="left:810px;top:734.5px" width="13" height="13" viewBox="0 0 13 13">
<rect x="0.6" y="0.6" width="11.8" height="11.8" fill="none" stroke="#333" stroke-width="1.1"/>
<path d="M1.5 8 L4.5 4 L6.8 6.5 L8.5 5 L11.5 8.5" fill="none" stroke="#333" stroke-width="1"/>
<line x1="0.6" y1="9.6" x2="12.4" y2="9.6" stroke="#333" stroke-width="1"/></svg>
<div class="t" style="left:832.00px;top:735.00px;font-size:14.20px;line-height:14.20px;font-weight:normal;font-style:normal;color:#222;letter-spacing:0.329px;-webkit-text-stroke:0.4px #222;">Job Photos</div>
<svg style="left:946.5px;top:735.5px" width="15" height="12" viewBox="0 0 15 12">
<path d="M1 0.9 L5 0.6 L10 1.4 L14 0.9 V10.1 L10 10.7 L5 9.8 L1 10.1 Z M5 0.6 V9.8 M10 1.4 V10.7" fill="none" stroke="#333" stroke-width="1.05" stroke-linejoin="round"/></svg>
<div class="t" style="left:969.00px;top:735.00px;font-size:14.20px;line-height:14.20px;font-weight:normal;font-style:normal;color:#222;letter-spacing:0.485px;-webkit-text-stroke:0.4px #222;">Directions</div>
<svg style="left:1078.5px;top:734px" width="13" height="13" viewBox="0 0 13 13">
<path d="M1 12 L1.6 9 L9.5 1.1 L11.9 3.5 L4 11.4 Z M8.3 2.3 L10.7 4.7" fill="none" stroke="#333" stroke-width="1.1"/></svg>
<div class="t" style="left:1101.00px;top:735.00px;font-size:14.20px;line-height:14.20px;font-weight:normal;font-style:normal;color:#222;letter-spacing:0.182px;-webkit-text-stroke:0.4px #222;">Details</div>
<div class="abs" style="left:284.5px;top:826.5px;width:19.0px;height:19.0px;background:#2a9d1f;border-radius:50%"></div>
<div class="t" style="left:315.00px;top:830.00px;font-size:15.30px;line-height:15.30px;font-weight:bold;font-style:normal;color:#222;letter-spacing:0.149px;transform:scaleX(1.0713);transform-origin:0 0;">02:30 PM:</div>
<div class="t" style="left:398.00px;top:830.00px;font-size:15.30px;line-height:15.30px;font-weight:normal;font-style:normal;color:#1c6fd6;letter-spacing:0.301px;transform:scaleX(1.0372);transform-origin:0 0;-webkit-text-stroke:0.35px #1c6fd6;">Johnson Residence</div>
<svg style="left:547.4px;top:832px" width="15" height="12" viewBox="0 0 15 12">
<path d="M5 1 H14 V9 H5 M5 1 V9 M5 3.5 H2.5 L0.7 6 V9 H5" fill="none" stroke="#1c6fd6" stroke-width="1.1"/>
<circle cx="3.5" cy="9.8" r="1.5" fill="#fff" stroke="#1c6fd6" stroke-width="1.1"/><circle cx="11.5" cy="9.8" r="1.5" fill="#fff" stroke="#1c6fd6" stroke-width="1.1"/></svg>
<svg style="left:566.2px;top:831px" width="12" height="12" viewBox="0 0 12 12"><path d="M0.8 7 L3.8 10.5 L11.3 0.8" fill="none" stroke="#cfcfcf" stroke-width="1.2"/></svg>
<div class="t" style="left:315.00px;top:852.00px;font-size:15.60px;line-height:15.60px;font-weight:normal;font-style:normal;color:#2a2a2a;letter-spacing:-0.235px;transform:scaleX(0.9589);transform-origin:0 0;">Dustin Jones</div>
<div class="abs" style="left:768px;top:826px;width:159px;height:41px;border:2px solid #c9c9c9;background:#fff;border-radius:2px 0 0 2px"></div>
<div class="abs" style="left:926px;top:826px;width:132px;height:41px;border:2px solid #c9c9c9;background:#fff"></div>
<div class="abs" style="left:1057px;top:826px;width:110px;height:41px;border:2px solid #c9c9c9;background:#fff;border-radius:0 2px 2px 0"></div>
<svg style="left:789px;top:838.5px" width="13" height="13" viewBox="0 0 13 13">
<rect x="0.6" y="0.6" width="11.8" height="11.8" fill="none" stroke="#333" stroke-width="1.1"/>
<path d="M1.5 8 L4.5 4 L6.8 6.5 L8.5 5 L11.5 8.5" fill="none" stroke="#333" stroke-width="1"/>
<line x1="0.6" y1="9.6" x2="12.4" y2="9.6" stroke="#333" stroke-width="1"/></svg>
<div class="t" style="left:811.00px;top:839.00px;font-size:14.20px;line-height:14.20px;font-weight:normal;font-style:normal;color:#222;letter-spacing:0.204px;-webkit-text-stroke:0.4px #222;">Job Photos (1)</div>
<svg style="left:946.5px;top:839.5px" width="15" height="12" viewBox="0 0 15 12">
<path d="M1 0.9 L5 0.6 L10 1.4 L14 0.9 V10.1 L10 10.7 L5 9.8 L1 10.1 Z M5 0.6 V9.8 M10 1.4 V10.7" fill="none" stroke="#333" stroke-width="1.05" stroke-linejoin="round"/></svg>
<div class="t" style="left:969.00px;top:839.00px;font-size:14.20px;line-height:14.20px;font-weight:normal;font-style:normal;color:#222;letter-spacing:0.485px;-webkit-text-stroke:0.4px #222;">Directions</div>
<svg style="left:1078.5px;top:838px" width="13" height="13" viewBox="0 0 13 13">
<path d="M1 12 L1.6 9 L9.5 1.1 L11.9 3.5 L4 11.4 Z M8.3 2.3 L10.7 4.7" fill="none" stroke="#333" stroke-width="1.1"/></svg>
<div class="t" style="left:1101.00px;top:839.00px;font-size:14.20px;line-height:14.20px;font-weight:normal;font-style:normal;color:#222;letter-spacing:0.182px;-webkit-text-stroke:0.4px #222;">Details</div>
</body></html>
